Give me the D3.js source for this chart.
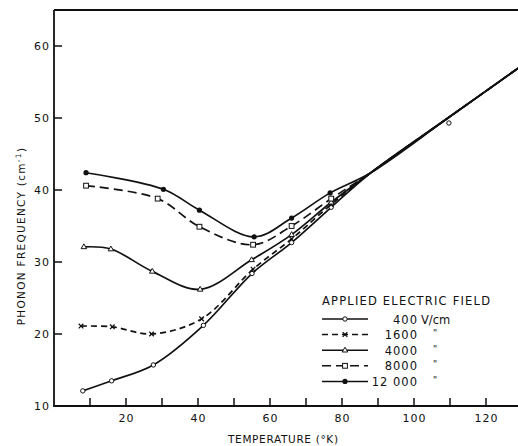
<!DOCTYPE html>
<html>
<head>
<meta charset="utf-8">
<script src="https://cdn.jsdelivr.net/npm/d3@7"></script>
<style>
body { margin: 0; background: #fff; }
text { font-family: "DejaVu Sans", sans-serif; fill: #111; }
</style>
</head>
<body>
<div id="container"></div>
<script>
const W = 518, H = 446;

// readings: temperature (K) and phonon frequency (cm-1)
var t400   = [8.0, 16.0, 27.6, 41.5, 55.0, 66.0, 77.0, 109.7];
var f400   = [12.1, 13.5, 15.7, 21.2, 28.4, 32.7, 37.6, 49.3];
var t1600  = [7.5, 16.2, 27.1, 41.0, 55.3, 66.0, 77.0];
var f1600  = [21.1, 21.0, 20.0, 22.1, 29.0, 33.2, 38.0];
var t4000  = [8.3, 15.8, 27.3, 40.6, 54.9, 66.0, 77.0];
var f4000  = [32.1, 31.8, 28.7, 26.2, 30.3, 33.8, 38.3];
var t8000  = [8.9, 28.8, 40.4, 55.3, 66.0, 77.0];
var f8000  = [40.6, 38.8, 34.9, 32.4, 35.0, 38.8];
var t12000 = [8.9, 30.4, 40.4, 55.6, 66.0, 76.7];
var f12000 = [42.4, 40.1, 37.2, 33.5, 36.1, 39.6];
// high temperature line all curves merge into
var tCommon = [88, 110, 130];
var fCommon = [42.4, 50.2, 57.3];

var fields  = ["400", "1600", "4000", "8000", "12 000"];
var xTicks  = [10, 20, 30, 40, 50, 60, 70, 80, 90, 100, 110, 120];
var xLabels = [20, 40, 60, 80, 100, 120];
var yTicks  = [20, 30, 40, 50, 60];
var yLabels = [10, 20, 30, 40, 50, 60];

var series = [
	{ name: fields[0], t: t400,   f: f400,   marker: "circle", dash: null },
	{ name: fields[1], t: t1600,  f: f1600,  marker: "x",      dash: "6,4" },
	{ name: fields[2], t: t4000,  f: f4000,  marker: "tri",    dash: null },
	{ name: fields[3], t: t8000,  f: f8000,  marker: "square", dash: "9,5" },
	{ name: fields[4], t: t12000, f: f12000, marker: "dot",    dash: null }
];

var x = d3.scaleLinear().domain([0, 130]).range([54, 522]);
var y = d3.scaleLinear().domain([10, 65]).range([406, 10]);

var svg = d3.select("#container").append("svg")
	.attr("width", W)
	.attr("height", H);

// frame: left, bottom, top
var frame = svg.append("g").attr("stroke", "#111").attr("stroke-width", 1.8).attr("fill", "none");
frame.append("path").attr("d", "M" + x(0) + "," + y(65) + "V" + y(10) + "H" + W);
frame.append("path").attr("d", "M" + x(0) + "," + y(65) + "H" + W);

var ticks = svg.append("g").attr("stroke", "#111").attr("stroke-width", 1.5);
ticks.selectAll(".xt").data(xTicks).enter().append("line")
	.attr("x1", d => x(d)).attr("x2", d => x(d))
	.attr("y1", y(10)).attr("y2", y(10) - 8);
ticks.selectAll(".yt").data(yTicks).enter().append("line")
	.attr("x1", x(0)).attr("x2", x(0) + 8)
	.attr("y1", d => y(d)).attr("y2", d => y(d));

svg.selectAll(".xl").data(xLabels).enter().append("text")
	.attr("x", d => x(d) + 0.5)
	.attr("y", 422)
	.attr("text-anchor", "middle")
	.style("font-size", "11px")
	.style("letter-spacing", "1px")
	.text(d => d);

svg.selectAll(".yl").data(yLabels).enter().append("text")
	.attr("x", 50)
	.attr("y", d => y(d) + 4)
	.attr("text-anchor", "end")
	.style("font-size", "11px")
	.style("letter-spacing", "1px")
	.text(d => d);

svg.append("text")
	.attr("x", 283).attr("y", 443)
	.attr("text-anchor", "middle")
	.attr("textLength", 110).attr("lengthAdjust", "spacing")
	.style("font-size", "10.5px")
	.text("TEMPERATURE (°K)");

var ylab = svg.append("text")
	.attr("transform", "translate(25,236) rotate(-90)")
	.attr("text-anchor", "middle")
	.style("font-size", "10.5px")
	.style("letter-spacing", "1.3px")
	.text("PHONON FREQUENCY (cm");
ylab.append("tspan").attr("dy", -4).style("font-size", "7.5px").text("-1");
ylab.append("tspan").attr("dy", 4).text(")");

// curves
var line = d3.line()
	.x(d => x(d[0]))
	.y(d => y(d[1]))
	.curve(d3.curveCatmullRom.alpha(0.5));

function linePoints(s)
{
	var pts = [];
	for( var i=0; i<s.t.length; i++ )
		if( s.t[i] < 85 ) pts.push([s.t[i], s.f[i]]);
	for( var j=0; j<tCommon.length; j++ )
		pts.push([tCommon[j], fCommon[j]]);
	return pts;
}

svg.append("g").selectAll("path").data(series).enter().append("path")
	.attr("d", s => line(linePoints(s)))
	.attr("fill", "none")
	.attr("stroke", "#111")
	.attr("stroke-width", 1.7)
	.attr("stroke-dasharray", s => s.dash);

function drawMarker(g, type, cx, cy)
{
	if( type == "circle" )
		g.append("circle").attr("cx", cx).attr("cy", cy).attr("r", 2.2)
			.attr("fill", "#fff").attr("stroke", "#111").attr("stroke-width", 1);
	else if( type == "dot" )
		g.append("circle").attr("cx", cx).attr("cy", cy).attr("r", 2.6).attr("fill", "#111");
	else if( type == "square" )
		g.append("rect").attr("x", cx - 2.4).attr("y", cy - 2.4).attr("width", 4.8).attr("height", 4.8)
			.attr("fill", "#fff").attr("stroke", "#111").attr("stroke-width", 1);
	else if( type == "tri" )
		g.append("path").attr("d", "M" + cx + "," + (cy - 3) + "L" + (cx + 2.8) + "," + (cy + 1.8) + "L" + (cx - 2.8) + "," + (cy + 1.8) + "Z")
			.attr("fill", "#fff").attr("stroke", "#111").attr("stroke-width", 1);
	else if( type == "x" )
		g.append("path").attr("d", "M" + (cx - 2.3) + "," + (cy - 2.3) + "L" + (cx + 2.3) + "," + (cy + 2.3) + "M" + (cx + 2.3) + "," + (cy - 2.3) + "L" + (cx - 2.3) + "," + (cy + 2.3))
			.attr("stroke", "#111").attr("stroke-width", 1.3);
}

var marks = svg.append("g");
series.forEach(s => {
	for( var i=0; i<s.t.length; i++ )
		drawMarker(marks, s.marker, x(s.t[i]), y(s.f[i]));
});

// legend
var legend = svg.append("g");
legend.append("text")
	.attr("x", 322).attr("y", 305)
	.attr("textLength", 168).attr("lengthAdjust", "spacing")
	.style("font-size", "11.5px")
	.text("APPLIED ELECTRIC FIELD");

series.forEach((s, i) => {
	var ly = 319 + i * 15.6;
	legend.append("line")
		.attr("x1", 322).attr("x2", 368).attr("y1", ly).attr("y2", ly)
		.attr("stroke", "#111").attr("stroke-width", 1.5)
		.attr("stroke-dasharray", s.dash);
	drawMarker(legend, s.marker, 345, ly);
	legend.append("text")
		.attr("x", 418).attr("y", ly + 4.5)
		.attr("text-anchor", "end")
		.style("font-size", "11.5px")
		.style("letter-spacing", "1px")
		.text(s.name);
	if( i == 0 )
		legend.append("text")
			.attr("x", 421).attr("y", ly + 4.5)
			.style("font-size", "11.5px")
			.text("V/cm");
	else
		legend.append("text")
			.attr("x", 433).attr("y", ly + 1.5)
			.style("font-size", "9px")
			.text("\"");
});
</script>
</body>
</html>
